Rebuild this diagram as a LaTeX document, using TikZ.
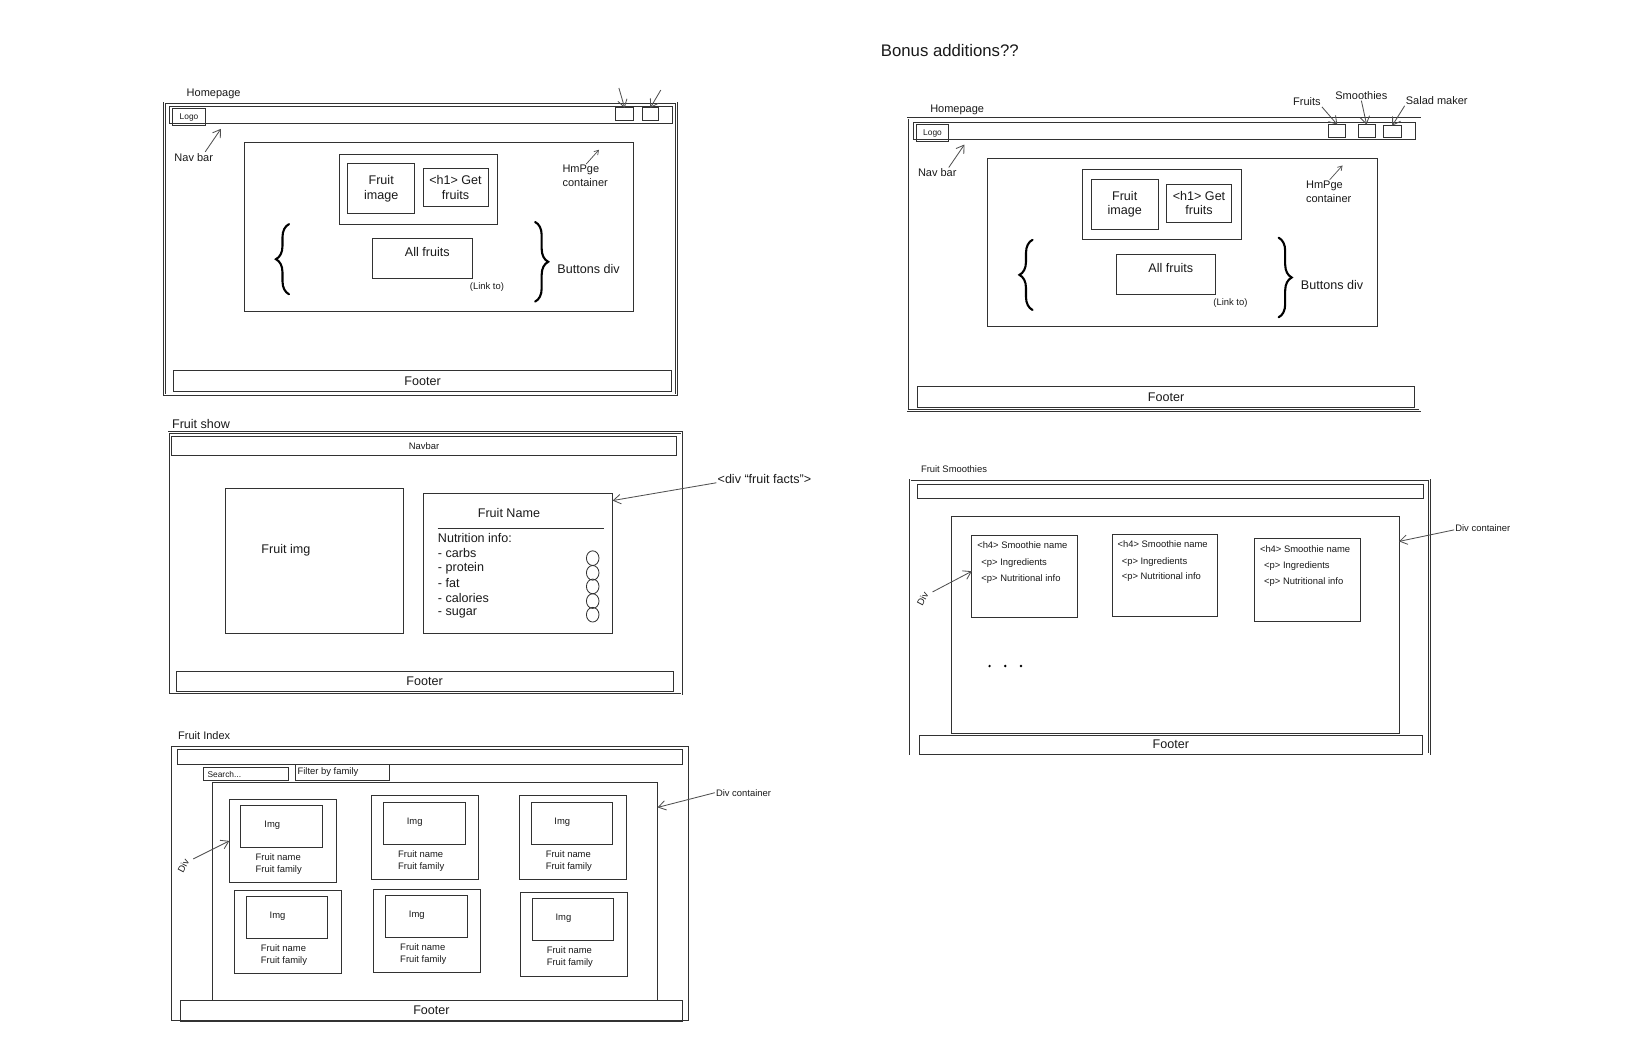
\documentclass[tikz,border=0pt]{standalone}
\usepackage{fontspec}
\setmainfont{Liberation Sans}
\usetikzlibrary{arrows.meta,shapes.geometric,decorations.pathreplacing,positioning}

\definecolor{ink}{RGB}{50,50,50}
\definecolor{pen}{RGB}{80,80,80}

\tikzset{
  frame/.style={draw=ink, line width=0.8pt, inner sep=0pt, outer sep=0pt},
  wbox/.style 2 args={frame, rectangle, anchor=north west, minimum width=#1pt, minimum height=#2pt},
  page/.style={double=white, double distance=1pt, line width=0.55pt},
  arr/.style={draw=pen, line width=0.8pt, -{Straight Barb[length=7pt,width=9pt]}},
  arrs/.style={draw=pen, line width=0.7pt, -{Straight Barb[length=4pt,width=5pt]}},
  curly/.style={decorate, decoration={brace, amplitude=12.5pt}, line width=2pt, line cap=round, draw=black},
  bead/.style={ellipse, draw=ink, line width=0.8pt, minimum width=12pt, minimum height=14pt, inner sep=0pt},
  ftitle/.style={font=\fontsize{16}{19}\selectfont, inner sep=1pt, text=black!90},
  fhand/.style={font=\fontsize{12}{14}\selectfont, inner sep=1pt, text=black!90},
  fnote/.style={font=\fontsize{10.5}{13}\selectfont, inner sep=1pt, text=black!90},
  fsmall/.style={font=\fontsize{9}{11}\selectfont, inner sep=1pt, text=black!90},
  ftiny/.style={font=\fontsize{8}{10}\selectfont, inner sep=1pt, text=black!90},
}

\begin{document}
\begin{tikzpicture}[x=1pt, y=-1pt]
  \useasboundingbox (0,0) rectangle (1568,993);

  \node[ftitle] (bonus) at (907,48) {Bonus additions??};

  % Homepage, drawn twice (plain and bonus)
  \foreach \i/\dx/\dy in {1/0/0, 2/710/15}{
    \begin{scope}[shift={(\dx,\dy)}]
      \node[fnote] (homelbl\i) at (204,90) {Homepage};
      \node[wbox={489}{279}, page] (home\i) at (157,98) {};
      \node[wbox={480}{16}] (nav\i) at (162,102) {};
      \node[wbox={31}{16}, ftiny] (logo\i) at (165,104) {Logo};
      \node[fnote] (navlbl\i) at (185,150) {Nav bar};
      \coordinate (navtip\i) at (211,123);
      \draw[arr] ([xshift=11pt]navlbl\i.north) -- (navtip\i);

      % container
      \node[wbox={372}{161}] (cont\i) at (233,136) {};
      \node[fnote, anchor=west, align=left] (contlbl\i) at (536,168) {HmPge\\container};
      \coordinate (conttip\i) at (572,143);
      \draw[arrs] ([xshift=1pt]contlbl\i.north) -- (conttip\i);
      \node[wbox={151}{67}] (hero\i) at (324,147) {};
      \node[wbox={64}{48}, fhand, align=center] (fimg\i) at (332,156) {Fruit\\image};
      \node[wbox={62}{36}, fhand, align=center] (head\i) at (404,161) {<h1> Get\\fruits};
      \node[wbox={95}{38}] (allf\i) at (356,228) {};
      \node[fhand] (allftxt\i) at (408,241) {All fruits};
      \node[fsmall] (link\i) at (465,274) {(Link to)};

      % braces
      \coordinate (lbrbot\i) at (276,281);
      \coordinate (lbrtop\i) at (276,214);
      \coordinate (rbrtop\i) at (511,212);
      \coordinate (rbrbot\i) at (511,288);
      \draw[curly] (lbrbot\i) -- (lbrtop\i);
      \draw[curly] (rbrtop\i) -- (rbrbot\i);
      \node[fhand] (btnlbl\i) at (562,257) {Buttons div};

      \node[wbox={475}{20}, fhand] (foot\i) at (166,354) {Footer};
    \end{scope}
  }

  % nav buttons, homepage
  \node[wbox={17}{12}] (hb1) at (588,103) {};
  \node[wbox={16}{12}] (hb2) at (613,103) {};
  \coordinate (hbtop1) at (591,84);
  \coordinate (hbtop2) at (631,86);
  \draw[arr] (hbtop1) -- (hb1.north);
  \draw[arr] (hbtop2) -- (hb2.north);

  % nav buttons, bonus homepage
  \node[wbox={16}{12}] (nb1) at (1269,119) {};
  \node[wbox={16}{12}] (nb2) at (1297,119) {};
  \node[wbox={17}{11}] (nb3) at (1321,120) {};
  \node[fnote] (fruitslbl) at (1248,97) {Fruits};
  \node[fnote] (smoothlbl) at (1300,91) {Smoothies};
  \node[fnote] (saladlbl) at (1372,96) {Salad maker};
  \draw[arr] (fruitslbl.south east) -- (nb1.north);
  \draw[arr] (smoothlbl.south) -- (nb2.north);
  \draw[arr] (saladlbl.south west) -- (nb3.north);

  % Fruit show page
  \node[fhand] (showlbl) at (192,405) {Fruit show};
  \node[wbox={490}{250}, page] (show) at (161,413) {};
  \node[wbox={482}{18}, fsmall] (shownav) at (164,417) {Navbar};
  \node[wbox={170}{139}] (showimg) at (215,466) {};
  \node[fhand] (showimgtxt) at (273,525) {Fruit img};
  \node[wbox={181}{134}] (facts) at (404,471) {};
  \node[fhand] (fname) at (486,490) {Fruit Name};
  \draw[ink, line width=0.9pt] (418,505) -- (577,505);
  \node[fhand, anchor=west] (nutri) at (417,514) {Nutrition info:};
  \foreach \k/\t/\ty in {1/carbs/528, 2/protein/543, 3/fat/557, 4/calories/571, 5/sugar/586}
    \node[fhand, anchor=west] (item\k) at (417,\ty) {- \t};
  \foreach \k/\cy in {1/533, 2/547, 3/560, 4/574, 5/587}
    \node[bead] (nut\k) at (566,\cy) {};
  \node[fhand] (factslbl) at (730,457) {<div “fruit facts”>};
  \draw[arr] ([yshift=-4pt]factslbl.west) -- ([yshift=-7pt]facts.north east);
  \node[wbox={475}{19}, fhand] (showfoot) at (168,641) {Footer};

  % Fruit index page
  \node[fnote] (idxlbl) at (195,702) {Fruit Index};
  \node[wbox={495}{263}, page] (index) at (163,712) {};
  \node[wbox={483}{14}] (idxnav) at (169,716) {};
  \node[wbox={81}{12}] (search) at (194,733) {};
  \node[ftiny, anchor=west] (searchtxt) at (197,740) {Search...};
  \node[wbox={90}{15}] (filter) at (282,730) {};
  \node[fsmall, anchor=west] (filtertxt) at (283,737) {Filter by family};
  \node[wbox={425}{208}] (idxcont) at (203,747) {};
  \node[fsmall] (idxdivlbl) at (710,757) {Div container};
  \draw[arr] (idxdivlbl.west) -- ([yshift=-24pt]idxcont.north east);
  \foreach \n/\x/\y in {1/219/763, 2/355/760, 3/496/760, 4/224/850, 5/357/849, 6/497/852}{
    \node[wbox={102}{80}] (card\n) at (\x,\y) {};
    \node[wbox={78}{40}] (cimg\n) at ({\x+11},{\y+6}) {};
    \node[fsmall] (cimgtxt\n) at ({\x+41},{\y+25}) {Img};
    \node[fsmall, anchor=west, align=left] (cname\n) at ({\x+24},{\y+62}) {Fruit name\\Fruit family};
  }
  \node[fsmall, rotate=62] (idxdiv) at (175,827) {Div};
  \draw[arr] ([xshift=6pt]idxdiv.east) -- (card1.west);
  \node[wbox={480}{20}, fhand] (idxfoot) at (172,955) {Footer};

  % Fruit smoothies page
  \node[fsmall] (smlbl) at (911,448) {Fruit Smoothies};
  \node[wbox={496}{262}, page] (smoo) at (869,458) {};
  \node[wbox={483}{13}] (smnav) at (876,463) {};
  \node[wbox={427}{207}] (smcont) at (909,493) {};
  \node[fsmall] (smdivlbl) at (1416,504) {Div container};
  \draw[arr] ([yshift=-2pt]smdivlbl.west) -- ([yshift=-24pt]smcont.north east);
  \foreach \n/\x/\y in {1/928/511, 2/1062/510, 3/1198/514}{
    \node[wbox={101}{79}] (scard\n) at (\x,\y) {};
    \node[fsmall, anchor=west] (sname\n) at ({\x+4},{\y+10}) {<h4> Smoothie name};
    \node[fsmall, anchor=west, align=left, font=\fontsize{9}{15}\selectfont] (sinfo\n) at ({\x+8},{\y+34}) {<p> Ingredients\\<p> Nutritional info};
  }
  \foreach \d in {945, 960, 975}
    \fill[black] (\d,636) circle (1.3);
  \node[fsmall, rotate=62] (smdiv) at (881,572) {Div};
  \draw[arr] ([xshift=6pt]smdiv.east) -- ([yshift=5pt]scard1.west);
  \node[wbox={480}{18}, fhand] (smfoot) at (878,702) {Footer};
\end{tikzpicture}
\end{document}
